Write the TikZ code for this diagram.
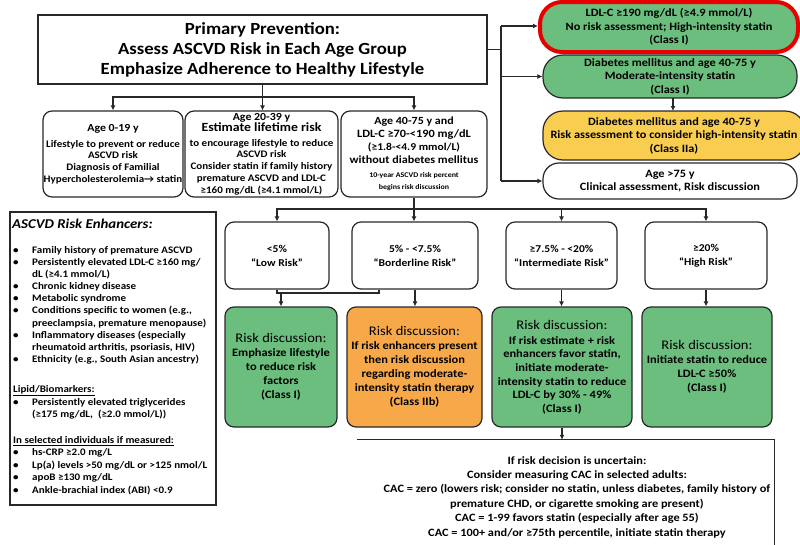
\documentclass[tikz,border=0pt]{standalone}
\usepackage{fontspec}
\setmainfont{Carlito}[FakeStretch=1.1]
\usetikzlibrary{arrows.meta}
\newcommand\fs[2]{\fontsize{#1}{#2}\selectfont}
\definecolor{gfill}{RGB}{107,190,125}
\definecolor{ofill}{RGB}{247,168,72}
\definecolor{yfill}{RGB}{249,206,80}
\definecolor{redb}{RGB}{232,0,0}
\definecolor{edge}{RGB}{40,40,40}
\tikzset{
  arr/.style={-{Latex[length=5pt,width=5pt]}, line width=1.1pt, draw=edge},
  ln/.style={line width=1.1pt, draw=edge},
  bx/.style={draw=edge, line width=1.2pt, rounded corners=9pt, align=center, inner sep=0pt},
  pill/.style={bx, rounded corners=20pt},
  et/.style={anchor=base west, inner sep=0pt, font=\bfseries\fs{10}{12}},
}
\newcommand\bul[3]{\node[et] (eb#1) at (13,#2) {•}; \node[et] (et#1) at (32,#2) {#3};}
\begin{document}
\begin{tikzpicture}[x=1pt,y=-1pt]
\useasboundingbox (0,0) rectangle (800,544);

% title
\node[draw=edge, line width=1.2pt, minimum width=449pt, minimum height=69pt, align=center, inner sep=0pt,
  font=\bfseries\fs{17}{20}] (title) at (262.5,49.5)
  {Primary Prevention:\\Assess ASCVD Risk in Each Age Group\\Emphasize Adherence to Healthy Lifestyle};

% right column
\node[pill, rounded corners=22pt, draw=redb, line width=4pt, fill=gfill, minimum width=258pt, minimum height=50pt,
  font=\bfseries\fs{11.2}{13.5}] (ldl) at (669,27)
  {LDL-C ≥190 mg/dL (≥4.9 mmol/L)\\No risk assessment; High-intensity statin\\(Class I)};
\node[pill, fill=gfill, minimum width=254pt, minimum height=43pt, font=\bfseries\fs{11.2}{13.5}] (dm1) at (670,76.5)
  {Diabetes mellitus and age 40-75 y\\Moderate-intensity statin\\(Class I)};
\node[pill, fill=yfill, minimum width=262pt, minimum height=49pt, font=\bfseries\fs{11.2}{13.5}] (dm2) at (674,135.5)
  {Diabetes mellitus and age 40-75 y\\Risk assessment to consider high-intensity statin\\(Class IIa)};
\node[pill, rounded corners=16pt, fill=white, minimum width=254pt, minimum height=36pt, font=\bfseries\fs{11.2}{13.5}] (old) at (670,181)
  {Age >75 y\\Clinical assessment, Risk discussion};

\coordinate (r0) at (501,49.5);
\draw[ln] (title.east) -- (r0);
\draw[ln] (501,26) -- (501,181);
\draw[arr] (501,26) -- (ldl.west |- 0,26);
\draw[arr] (501,76.5) -- (dm1.west);
\draw[arr] (501,181) -- (old.west);
\draw[arr] (673,98) -- (673,111);

% age boxes
\node[bx, minimum width=140pt, minimum height=86pt, font=\bfseries\fs{10}{11.6}] (age1) at (113,154)
  {{\fs{10.8}{12}Age 0-19 y}\\[4.2pt]Lifestyle to prevent or reduce\\ASCVD risk\\Diagnosis of Familial\\Hypercholesterolemia→ statin};
\node[bx, minimum width=153pt, minimum height=86pt, font=\bfseries\fs{10}{11.8}] (age2) at (261.5,154)
  {{\fs{10.8}{12}Age 20-39 y}\\[-0.8pt]{\fs{12.5}{13}Estimate lifetime risk}\\[3.2pt]to encourage lifestyle to reduce\\ASCVD risk\\Consider statin if family history\\premature ASCVD and LDL-C\\≥160 mg/dL (≥4.1 mmol/L)};
\node[bx, minimum width=146pt, minimum height=86pt, font=\bfseries\fs{7.2}{12}] (age3) at (414,154)
  {{\fs{10.9}{12}Age 40-75 y and}\\[1pt]{\fs{11.2}{12}LDL-C ≥70-<190 mg/dL}\\[1pt]{\fs{10.5}{12}(≥1.8-<4.9 mmol/L)}\\[1pt]{\fs{11}{12}without diabetes mellitus}\\[2pt]10-year ASCVD risk percent\\begins risk discussion};

\coordinate (j1) at (262.5,97);
\draw[ln] (title.south) -- (j1);
\draw[arr] (j1) -| (age1.north);
\draw[arr] (j1) -- (j1 |- age2.north);
\draw[arr] (j1) -| (age3.north);

% risk categories
\node[bx, minimum width=104pt, minimum height=67pt, font=\bfseries\fs{10.5}{14}] (c1) at (277,255.5) {<5\%\\“Low Risk”};
\node[bx, minimum width=126pt, minimum height=67pt, font=\bfseries\fs{10.5}{14}] (c2) at (415,255.5) {5\% - <7.5\%\\“Borderline Risk”};
\node[bx, minimum width=111pt, minimum height=67pt, font=\bfseries\fs{10.5}{14}] (c3) at (561.5,255.5) {≥7.5\% - <20\%\\“Intermediate Risk”};
\node[bx, minimum width=122pt, minimum height=67pt, font=\bfseries\fs{10.5}{14}] (c4) at (706,255.5) {≥20\%\\“High Risk”};

\coordinate (j2) at (414,209);
\draw[ln] (age3.south) -- (j2);
\draw[arr] (j2) -| (c1.north);
\draw[arr] (j2) -- (j2 |- c2.north);
\draw[arr] (j2) -| (c3.north);
\draw[arr] (j2) -| (c4.north);

% risk discussion boxes
\node[bx, fill=gfill, minimum width=112pt, minimum height=120pt, font=\bfseries\fs{11.3}{14.1}] (d1) at (281,367)
  {{\mdseries\fs{13.2}{14}Risk discussion:}\\Emphasize lifestyle\\to reduce risk\\factors\\(Class I)};
\node[bx, fill=ofill, minimum width=135pt, minimum height=120pt, font=\bfseries\fs{11.3}{14}] (d2) at (414.5,367)
  {{\mdseries\fs{13.2}{14}Risk discussion:}\\If risk enhancers present\\then risk discussion\\regarding moderate-\\intensity statin therapy\\(Class IIb)};
\node[bx, fill=gfill, minimum width=140pt, minimum height=120pt, font=\bfseries\fs{11.3}{13.6}] (d3) at (562,367)
  {{\mdseries\fs{13.2}{14}Risk discussion:}\\[1.5pt]If risk estimate + risk\\enhancers favor statin,\\initiate moderate-\\intensity statin to reduce\\LDL-C by 30\% - 49\%\\(Class I)};
\node[bx, fill=gfill, minimum width=130pt, minimum height=120pt, font=\bfseries\fs{11.3}{14}] (d4) at (707,367)
  {{\mdseries\fs{13.2}{14}Risk discussion:}\\Initiate statin to reduce\\LDL-C ≥50\%\\(Class I)};

\coordinate (b1) at (277,293);
\coordinate (b2) at (379,293);
\draw[ln] (c1.south) -- (b1) -- (b2) -- (b2 |- c2.south);
\draw[arr] (d1.north |- b1) -- (d1.north);
\draw[arr] (c2.south) -- (c2.south |- d2.north);
\draw[arr] (c3.south) -- (c3.south |- d3.north);
\draw[arr] (c4.south) -- (c4.south |- d4.north);

% bottom box
\node[minimum width=417pt, minimum height=110pt, inner sep=0pt] (bot) at (565.5,495) {};
\draw[ln] (bot.north west) -- (bot.north east) -- (bot.south east);
\node[align=center, inner sep=0pt, font=\bfseries\fs{11.2}{14.4}] (botT) at (577,497)
  {If risk decision is uncertain:\\Consider measuring CAC in selected adults:\\CAC = zero (lowers risk; consider no statin, unless diabetes, family history of\\premature CHD, or cigarette smoking are present)\\CAC = 1-99 favors statin (especially after age 55)\\CAC = 100+ and/or ≥75th percentile, initiate statin therapy};
\draw[arr] (d3.south) -- (d3.south |- bot.north);

% risk enhancers
\node[draw=edge, line width=1.2pt, minimum width=206pt, minimum height=293pt, inner sep=0pt] (enh) at (113,358.5) {};
\node[anchor=base west, inner sep=0pt, font=\bfseries\itshape\fs{13.5}{14}] (eh) at (12,228.5) {ASCVD Risk Enhancers:};
\bul{1}{253.5}{Family history of premature ASCVD}
\bul{2}{265.5}{Persistently elevated LDL-C ≥160 mg/}
\node[et] (ec1) at (32,277) {dL (≥4.1 mmol/L)};
\bul{3}{289.5}{Chronic kidney disease}
\bul{4}{301.5}{Metabolic syndrome}
\bul{5}{313.5}{Conditions specific to women (e.g.,}
\node[et] (ec2) at (32,326) {preeclampsia, premature menopause)};
\bul{6}{338.5}{Inflammatory diseases (especially}
\node[et] (ec3) at (32,350.5) {rheumatoid arthritis, psoriasis, HIV)};
\bul{7}{362.5}{Ethnicity (e.g., South Asian ancestry)}
\node[et] (eu1) at (13,392.5) {\underline{Lipid/Biomarkers:}};
\bul{8}{405.5}{Persistently elevated triglycerides}
\node[et] (ec4) at (32,417.5) {(≥175 mg/dL,\ \ (≥2.0 mmol/L))};
\node[et] (eu2) at (13,443.5) {\underline{In selected individuals if measured:}};
\bul{9}{455.5}{hs-CRP ≥2.0 mg/L}
\bul{10}{468.5}{Lp(a) levels >50 mg/dL or >125 nmol/L}
\bul{11}{480.5}{apoB ≥130 mg/dL}
\bul{12}{493.5}{Ankle-brachial index (ABI) <0.9}
\end{tikzpicture}
\end{document}
